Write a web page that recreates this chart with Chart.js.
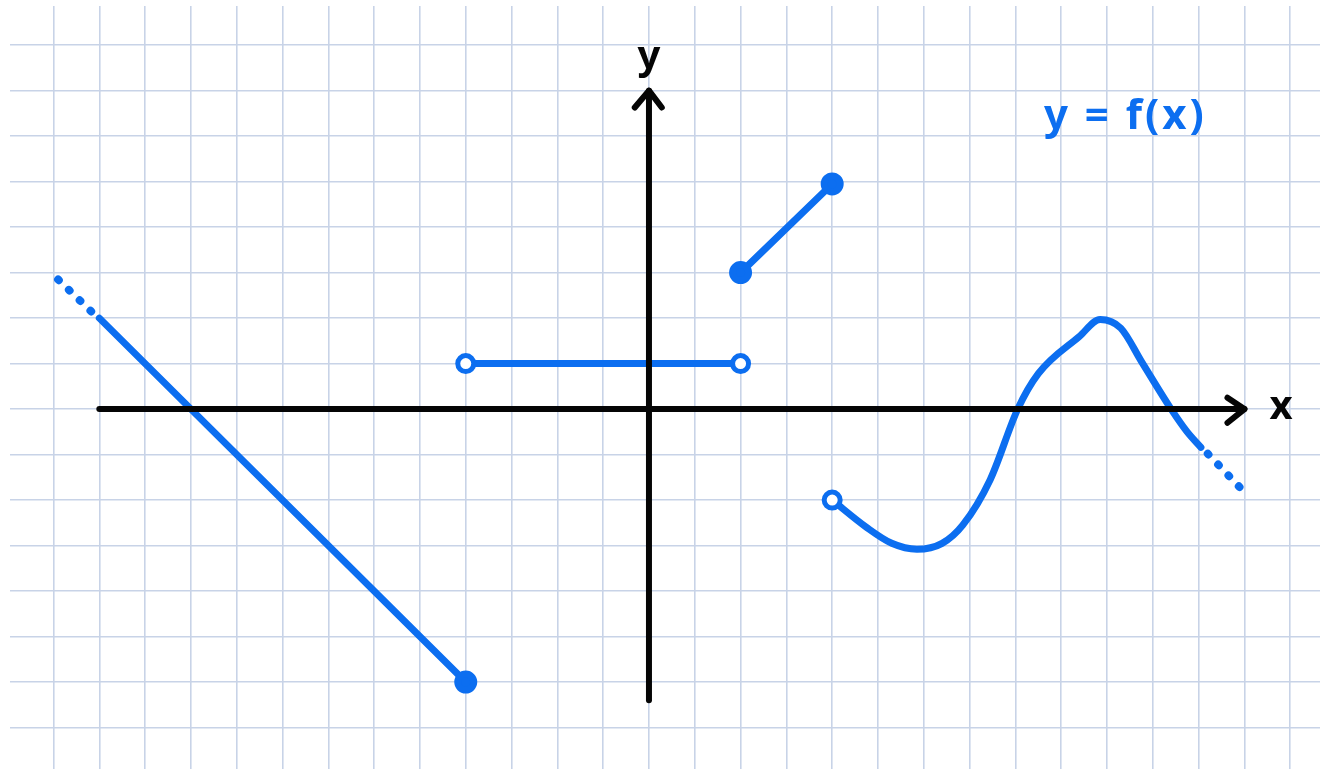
<!DOCTYPE html>
<html>
<head>
<meta charset="utf-8">
<script src="https://cdn.jsdelivr.net/npm/chart.js@4.4.1/dist/chart.umd.min.js"></script>
<style>
  html, body { margin: 0; padding: 0; background: #fff; }
  canvas { display: block; }
</style>
</head>
<body>
<canvas id="graph" width="1323" height="769"></canvas>
<script>
// visible window of the squared paper (in grid units)
const xRange = [-13.95, 14.65];
const yRange = [-7.91, 8.86];

// f(x), piece by piece
const leftLineX = [-12, -4];
const leftLineY = [2, -6];
const leftDotsX = [-12.9, -12.15];
const leftDotsY = [2.85, 2.12];

const flatX = [-4, 2];
const flatY = [1, 1];

const riseX = [2, 4];
const riseY = [3, 4.95];

const curveX = [4, 4.75, 5.3, 5.85, 6.4, 6.85, 7.45, 8.05, 8.5, 9.4, 9.85, 10.3, 10.75, 11.4, 11.75, 12.05];
const curveY = [-2, -2.6, -2.95, -3.08, -2.95, -2.55, -1.55, 0, 0.78, 1.6, 1.97, 1.78, 1.05, 0, -0.5, -0.84];
const tailDotsX = [12.2, 12.9];
const tailDotsY = [-0.98, -1.72];

// axes
const xAxisX = [-12, 13];
const xAxisY = [0, 0];
const yAxisX = [0, 0];
const yAxisY = [-6.4, 7.0];
const xArrowX = [12.63, 13, 12.63];
const xArrowY = [0.25, 0, -0.3];
const yArrowX = [-0.31, 0, 0.28];
const yArrowY = [6.63, 7.0, 6.63];

// text
const labelTexts = ['y', 'x', 'y = f(x)'];
const labelX = [0, 13.8, 10.4];
const labelY = [7.72, 0.04, 6.42];

const BLUE = '#0c6ef0';
const INK = '#050505';

const pts = (xs, ys) => xs.map((x, i) => ({ x, y: ys[i] }));

const ink = (xs, ys) => ({
  data: pts(xs, ys),
  showLine: true,
  borderColor: INK,
  borderWidth: 6,
  borderCapStyle: 'round',
  borderJoinStyle: 'round',
  pointRadius: 0
});

const pen = (xs, ys, extra) => Object.assign({
  data: pts(xs, ys),
  showLine: true,
  borderColor: BLUE,
  backgroundColor: BLUE,
  borderWidth: 7,
  borderCapStyle: 'round',
  borderJoinStyle: 'round',
  pointRadius: 0,
  tension: 0
}, extra || {});

const openEnd = { pointBorderWidth: 5, pointBackgroundColor: '#fff', pointBorderColor: BLUE };

// texte à la main
const labelsPlugin = {
  id: 'handLabels',
  afterDatasetsDraw(chart) {
    const { ctx, scales } = chart;
    ctx.save();
    ctx.textAlign = 'center';
    ctx.textBaseline = 'middle';
    labelTexts.forEach((t, i) => {
      const px = scales.x.getPixelForValue(labelX[i]);
      const py = scales.y.getPixelForValue(labelY[i]);
      if (i < 2) {
        ctx.fillStyle = INK;
        ctx.font = 'bold 40px "Noto Sans", sans-serif';
        ctx.letterSpacing = '0px';
      } else {
        ctx.fillStyle = BLUE;
        ctx.font = 'bold 42px "Noto Sans", sans-serif';
        ctx.letterSpacing = '3px';
      }
      ctx.fillText(t, px, py);
    });
    ctx.restore();
  }
};

const intTicks = (lo, hi) => {
  const out = [];
  for (let v = Math.ceil(lo); v <= Math.floor(hi); v++) out.push({ value: v });
  return out;
};

const gridScale = (range) => ({
  type: 'linear',
  min: range[0],
  max: range[1],
  afterBuildTicks: (axis) => { axis.ticks = intTicks(range[0], range[1]); },
  ticks: { display: false },
  border: { display: false },
  grid: { color: '#c8d3e7', lineWidth: 1.6, drawTicks: false }
});

new Chart(document.getElementById('graph'), {
  type: 'scatter',
  data: {
    datasets: [
      ink(xAxisX, xAxisY),
      ink(yAxisX, yAxisY),
      ink(xArrowX, xArrowY),
      ink(yArrowX, yArrowY),
      pen(leftLineX, leftLineY, { pointRadius: [0, 8] }),
      pen(leftDotsX, leftDotsY, { borderDash: [1, 14], borderWidth: 8 }),
      pen(flatX, flatY, Object.assign({ pointRadius: 8 }, openEnd)),
      pen(riseX, riseY, { pointRadius: 8 }),
      pen(curveX, curveY, Object.assign({ cubicInterpolationMode: 'monotone', pointRadius: [8].concat(curveX.slice(1).map(() => 0)) }, openEnd)),
      pen(tailDotsX, tailDotsY, { borderDash: [1, 14], borderWidth: 8 })
    ]
  },
  options: {
    responsive: false,
    animation: false,
    layout: { autoPadding: false, padding: { left: 10, top: 6, right: 3, bottom: 0 } },
    plugins: { legend: { display: false }, tooltip: { enabled: false } },
    scales: {
      x: gridScale(xRange),
      y: gridScale(yRange)
    }
  },
  plugins: [labelsPlugin]
});
</script>
</body>
</html>
